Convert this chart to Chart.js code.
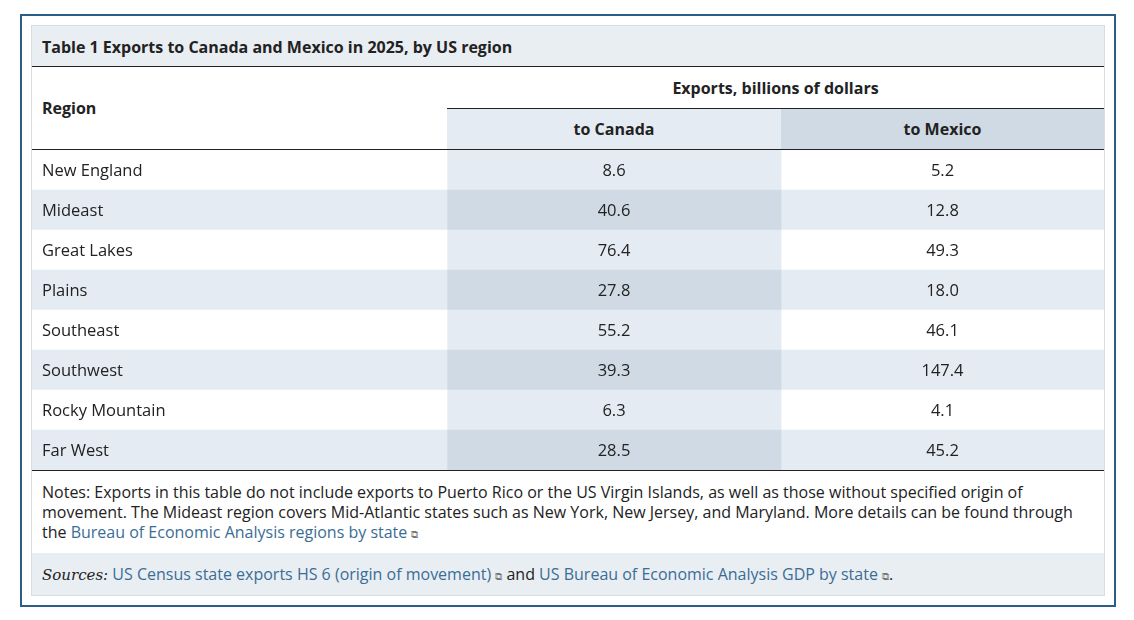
<!DOCTYPE html>
<html>
<head>
<meta charset="utf-8">
<script src="https://cdn.jsdelivr.net/npm/chart.js@4"></script>
<style>
  body { margin: 0; background: #fff; font-family: "Open Sans", Lato, sans-serif; color: #222; }
  #frame { position: absolute; left: 20px; top: 14px; width: 1092px; height: 589px; border: 2px solid #2d5f86; }
  #panel { position: absolute; left: 10px; top: 10px; width: 1072px; height: 569px; background: #fff; outline: 1px solid #d5dde5; }
  .title { height: 40px; background: #e9eef3; font-weight: bold; font-size: 16px; line-height: 42px; padding-left: 10px; border-bottom: 1.5px solid #222; }
  .head { position: relative; height: 82px; border-bottom: 1.5px solid #222; font-weight: bold; font-size: 16px; }
  .head div { position: absolute; }
  #wrap { position: relative; width: 1072px; height: 320px; border-bottom: 1.5px solid #222; }
  .notes { padding: 11px 10px 0 10px; height: 71px; font-size: 16px; line-height: 20px; }
  .src { background: #e9eef3; height: 42px; line-height: 42px; padding-left: 10px; font-size: 16px; }
  a { color: #3a6d96; text-decoration: none; }
  .ext { font-size: 10px; color: #777; }
</style>
</head>
<body>
<div id="frame"><div id="panel">
  <div class="title">Table 1 Exports to Canada and Mexico in 2025, by US region</div>
  <div class="head">
    <div style="left:10px;top:30px">Region</div>
    <div style="left:415px;width:657px;top:0;height:41px;line-height:42px;text-align:center;border-bottom:1px solid #222">Exports, billions of dollars</div>
    <div style="left:415px;width:334px;top:42px;height:40px;line-height:40px;text-align:center;background:#e4ebf2">to Canada</div>
    <div style="left:749px;width:323px;top:42px;height:40px;line-height:40px;text-align:center;background:#cfdae5">to Mexico</div>
  </div>
  <div id="wrap"><canvas id="tbl"></canvas></div>
  <div class="notes">Notes: Exports in this table do not include exports to Puerto Rico or the US Virgin Islands, as well as those without specified origin of movement. The Mideast region covers Mid-Atlantic states such as New York, New Jersey, and Maryland. More details can be found through the <a>Bureau of Economic Analysis regions by state</a> <span class="ext">&#x29C9;</span></div>
  <div class="src"><i style="font-family:'DejaVu Serif',serif;font-size:15px">Sources:</i> <a>US Census state exports HS 6 (origin of movement)</a> <span class="ext">&#x29C9;</span> and <a>US Bureau of Economic Analysis GDP by state</a> <span class="ext">&#x29C9;</span>.</div>
</div></div>
<script>
const regions = ['New England', 'Mideast', 'Great Lakes', 'Plains', 'Southeast', 'Southwest', 'Rocky Mountain', 'Far West'];
const toCanada = ['8.6', '40.6', '76.4', '27.8', '55.2', '39.3', '6.3', '28.5'];
const toMexico = ['5.2', '12.8', '49.3', '18.0', '46.1', '147.4', '4.1', '45.2'];

const colEdges = [0, 415, 749, 1072];
const light = '#e4ebf2', dark = '#cfdae5';

function span(i) { return regions.map(() => [colEdges[i], colEdges[i + 1]]) }
function shade(odd, even) { return regions.map((r, i) => i % 2 ? even : odd) }

const cellText = {
  id: 'cellText',
  afterDatasetsDraw(chart) {
    const ctx = chart.ctx;
    const texts = [regions, toCanada, toMexico];
    ctx.save();
    ctx.font = '16.5px "Open Sans", Lato, sans-serif';
    ctx.fillStyle = '#222';
    ctx.textBaseline = 'middle';
    chart.data.datasets.forEach((ds, d) => {
      chart.getDatasetMeta(d).data.forEach((bar, i) => {
        const p = bar.getProps(['x', 'y', 'base'], true);
        if (d === 0) { ctx.textAlign = 'left'; ctx.fillText(texts[d][i], p.base + 10, p.y + 1) }
        else { ctx.textAlign = 'center'; ctx.fillText(texts[d][i], (p.x + p.base) / 2, p.y + 1) }
      })
    });
    ctx.restore();
  }
};

new Chart(document.getElementById('tbl'), {
  type: 'bar',
  data: {
    labels: regions,
    datasets: [
      { data: span(0), backgroundColor: shade('#ffffff', light) },
      { data: span(1), backgroundColor: shade(light, dark) },
      { data: span(2), backgroundColor: shade('#ffffff', light) }
    ]
  },
  options: {
    indexAxis: 'y',
    responsive: true,
    maintainAspectRatio: false,
    animation: false,
    grouped: false,
    barPercentage: 1,
    categoryPercentage: 1,
    layout: { padding: 0 },
    plugins: { legend: { display: false }, tooltip: { enabled: false } },
    scales: {
      x: { display: false, min: 0, max: 1072 },
      y: { display: false }
    }
  },
  plugins: [cellText]
});
</script>
</body>
</html>
